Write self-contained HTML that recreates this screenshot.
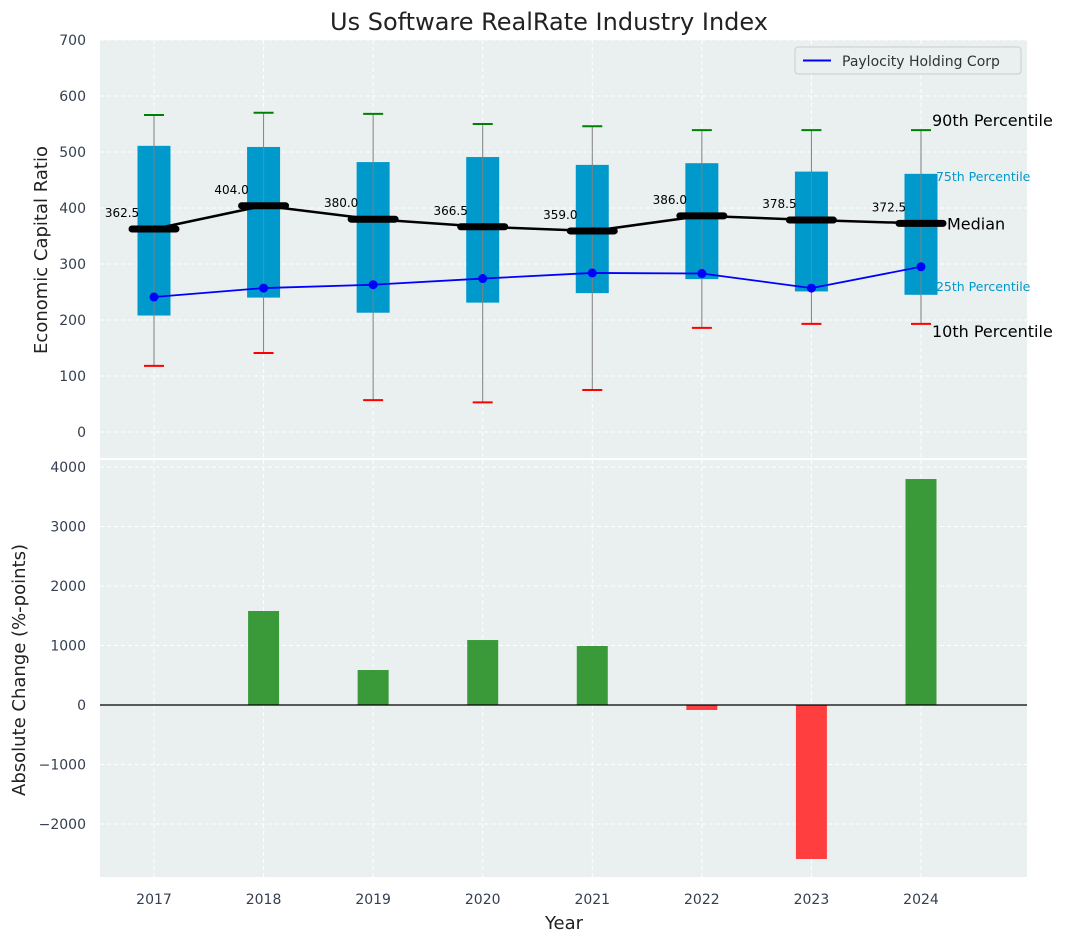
<!DOCTYPE html>
<html><head><meta charset="utf-8"><style>
body{margin:0;background:#fff;}
svg{font-family:"DejaVu Sans","Liberation Sans",sans-serif;}
</style></head><body>
<svg id="c" width="1067" height="942" xmlns="http://www.w3.org/2000/svg"></svg>
<script>
const years=[2017,2018,2019,2020,2021,2022,2023,2024];
const p10=[118,141,57,53,75,186,193,193];
const p25=[208,240,213,231,248,273,251,245];
const med=[362.5,404,380,366.5,359,386,378.5,372.5];
const p75=[511,509,482,491,477,480,465,461];
const p90=[566,570,568,550,546,539,539,539];
const company=[241,257,263,274,284,283,257,295];
const changes=[0,1580,588,1092,992,-84,-2588,3798];
const topTicks=[0,100,200,300,400,500,600,700];
const botTicks=[-2000,-1000,0,1000,2000,3000,4000];

const NS="http://www.w3.org/2000/svg";
const svg=document.getElementById('c');
function el(t,a,txt,p){const e=document.createElementNS(NS,t);for(const k in a)e.setAttribute(k,a[k]);if(txt!=null)e.textContent=txt;(p||svg).appendChild(e);return e;}
const L=100,R=1027;
const x=v=>154+(v-2017)*109.57;
const yT=v=>432-v*0.56;
const yB=v=>705-v*0.0595;
const T0=40,T1=458,B0=460,B1=877;

let r=el('rect',{x:L,y:T0,width:R-L,height:T1-T0,fill:'#eaeff0'});

r=el('rect',{x:L,y:B0,width:R-L,height:B1-B0,fill:'#eaeff0'});


topTicks.forEach(t=>{const yy=yT(t);
 el('line',{x1:L,x2:R,y1:yy,y2:yy,stroke:'#fff','stroke-dasharray':'4,3','stroke-width':1});
 const tx=el('text',{x:L-14,y:yy+5,'text-anchor':'end','font-size':14,fill:'#333f50'},t);
 });
botTicks.forEach(t=>{const yy=yB(t);
 el('line',{x1:L,x2:R,y1:yy,y2:yy,stroke:'#fff','stroke-dasharray':'4,3','stroke-width':1});
 const tx=el('text',{x:L-14,y:yy+5,'text-anchor':'end','font-size':14,fill:'#333f50'},(t<0?'−'+(-t):t));
 });
years.forEach(yr=>{const xx=x(yr);
 el('line',{x1:xx,x2:xx,y1:T0,y2:T1,stroke:'#fff','stroke-dasharray':'4,3'});
 el('line',{x1:xx,x2:xx,y1:B0,y2:B1,stroke:'#fff','stroke-dasharray':'4,3'});
 const tx=el('text',{x:xx,y:B1+27,'text-anchor':'middle','font-size':14,fill:'#333f50'},yr);
 });

years.forEach((yr,i)=>{const xx=x(yr);
 const g=el('g',{});
 el('rect',{x:xx-16.5,y:yT(p75[i]),width:33,height:yT(p25[i])-yT(p75[i]),fill:'#0099cc'},null,g);
 el('line',{x1:xx,x2:xx,y1:yT(p90[i]),y2:yT(p10[i]),stroke:'#808080','stroke-width':1},null,g);
 el('line',{x1:xx-10,x2:xx+10,y1:yT(p90[i]),y2:yT(p90[i]),stroke:'green','stroke-width':2},null,g);
 el('line',{x1:xx-10,x2:xx+10,y1:yT(p10[i]),y2:yT(p10[i]),stroke:'red','stroke-width':2},null,g);
});
let pts=years.map((yr,i)=>x(yr)+','+yT(med[i])).join(' ');
let pl=el('polyline',{points:pts,fill:'none',stroke:'#000','stroke-width':2.5});

years.forEach((yr,i)=>{const xx=x(yr),yy=yT(med[i]);
 const m=el('line',{x1:xx-22,x2:xx+22,y1:yy,y2:yy,stroke:'#000','stroke-width':7,'stroke-linecap':'round'});
 
 const t=el('text',{x:xx-32,y:yy-12,'text-anchor':'middle','font-size':12,fill:'#000'},med[i].toFixed(1));
 });
pts=years.map((yr,i)=>x(yr)+','+yT(company[i])).join(' ');
pl=el('polyline',{points:pts,fill:'none',stroke:'#0000ff','stroke-width':1.8});

years.forEach((yr,i)=>{const c=el('circle',{cx:x(yr),cy:yT(company[i]),r:4.5,fill:'#0000ff'});
 });
const li=7,lx=x(years[li]);
[[p90[li],'90th Percentile',16,'#000',11,-4],[p75[li],'75th Percentile',12.5,'#0099cc',15,7],[med[li],'Median',16,'#000',26,6],[p25[li],'25th Percentile',12.5,'#0099cc',15,-4],[p10[li],'10th Percentile',16,'#000',11,13]].forEach(a=>{
 const t=el('text',{x:lx+a[4],y:yT(a[0])+a[5],'font-size':a[2],fill:a[3]},a[1]);
 });
const lg=el('g',{});
el('rect',{x:795,y:47,width:226,height:27,rx:3,fill:'#eaeff0',stroke:'#ccc'},null,lg);
el('line',{x1:803,x2:831,y1:60.5,y2:60.5,stroke:'#0000ff','stroke-width':2},null,lg);
el('text',{x:842,y:66,'font-size':14,fill:'#333'},'Paylocity Holding Corp',lg);
years.forEach((yr,i)=>{const v=changes[i];const y0=yB(0),y1=yB(v);
 const b=el('rect',{x:x(yr)-15.5,y:Math.min(y0,y1),width:31,height:Math.abs(y1-y0),fill:v>=0?'#3a9a3a':'#ff3f3f'});
 });
el('line',{x1:L,x2:R,y1:yB(0),y2:yB(0),stroke:'#000','stroke-width':1.2});
let t=el('text',{x:549,y:30,'text-anchor':'middle','font-size':24,fill:'#222'},'Us Software RealRate Industry Index');

t=el('text',{x:47,y:250,'text-anchor':'middle','font-size':18,fill:'#222',transform:'rotate(-90 47 250)'},'Economic Capital Ratio');

t=el('text',{x:25,y:670,'text-anchor':'middle','font-size':18,fill:'#222',transform:'rotate(-90 25 670)'},'Absolute Change (%-points)');

t=el('text',{x:564,y:929,'text-anchor':'middle','font-size':18,fill:'#222'},'Year');

</script>
</body></html>
